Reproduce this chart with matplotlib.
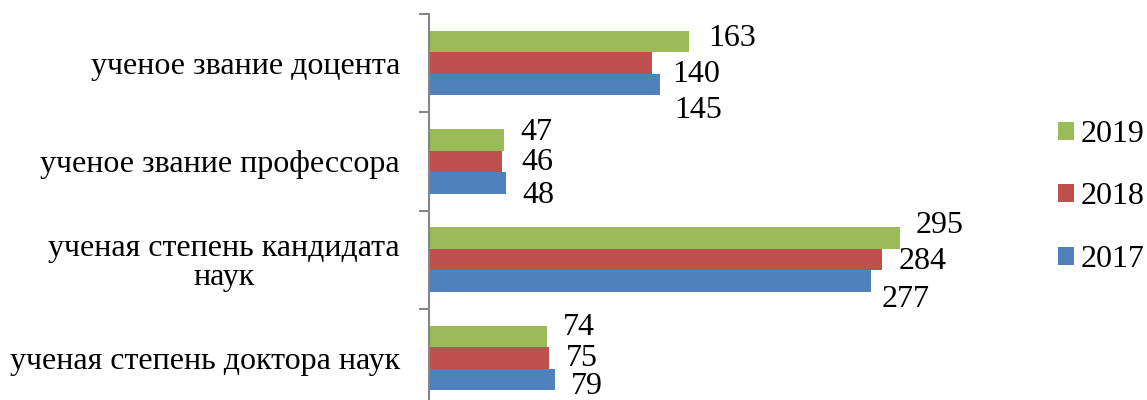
import matplotlib
matplotlib.use("Agg")
import matplotlib.pyplot as plt
import numpy as np

categories = ["ученое звание доцента", "ученое звание профессора",
              "ученая степень кандидата\nнаук", "ученая степень доктора наук"]
series_names = ["2019", "2018", "2017"]
v2019 = [163, 47, 295, 74]
v2018 = [140, 46, 284, 75]
v2017 = [145, 48, 277, 79]

colors = ["#9BBB59", "#C0504D", "#4F81BD"]
# label offsets (pixels: right, down) from bar end / bar centre
label_offsets = [
    [(19, -3), (16, -7.5), (16, -13), (16, -8.5)],
    [(20, 11), (19, 1), (16, 2), (17, 1)],
    [(14, 26), (17, 12.5), (11, 18.5), (16, 7)],
]

plt.rcParams['font.family'] = ['Liberation Serif', 'DejaVu Serif']
FS = 23

W, H = 1147, 400
fig = plt.figure(figsize=(W / 100, H / 100), dpi=100)
ax_left, ax_top = 429, 14
band = 98.25
xmax = 350
px_per_unit = 1.596
ax_w = xmax * px_per_unit
ax_h = band * 4
ax = fig.add_axes([ax_left / W, 1 - (ax_top + ax_h) / H, ax_w / W, ax_h / H])

y = np.arange(len(categories))
bh = 0.219
all_vals = [v2019, v2018, v2017]
for i, (vals, col, name) in enumerate(zip(all_vals, colors, series_names)):
    pos = y + (i - 1) * bh
    ax.barh(pos, vals, height=bh, color=col, label=name, linewidth=0)
    for j, (v, p) in enumerate(zip(vals, pos)):
        dx, dy = label_offsets[i][j]
        ax.annotate(str(v), xy=(v, p), xytext=(dx, -dy), textcoords='offset pixels',
                    ha='left', va='center', fontsize=FS)

ax.set_xlim(0, xmax)
ax.set_ylim(len(categories) - 0.5, -0.5)
for s in ['top', 'right', 'bottom']:
    ax.spines[s].set_visible(False)
ax.spines['left'].set_color('#868686')
ax.spines['left'].set_linewidth(1.5)
ax.set_xticks([])
ax.set_yticks(y)
ax.set_yticklabels(categories, fontsize=FS, linespacing=1.0)
ax.tick_params(axis='y', which='major', length=0, pad=0)
for lbl in ax.get_yticklabels():
    lbl.set_multialignment('center')
ax.set_yticks(np.arange(-0.5, len(categories) + 0.5, 1), minor=True)
ax.tick_params(axis='y', which='minor', length=7.5, width=1.5, color='#868686', direction='out')

for lbl in ax.get_yticklabels():
    lbl.set_ha('right')
    lbl.set_x(-29 / ax_w)

handles, labels = ax.get_legend_handles_labels()
fig.legend(handles, labels, loc='center left',
           bbox_to_anchor=(1058 / W, 1 - 197 / H), frameon=False, fontsize=FS,
           handlelength=0.5, handleheight=0.5, handletextpad=0.22,
           labelspacing=1.05, borderpad=0, borderaxespad=0)

fig.savefig("out.png", dpi=100)
